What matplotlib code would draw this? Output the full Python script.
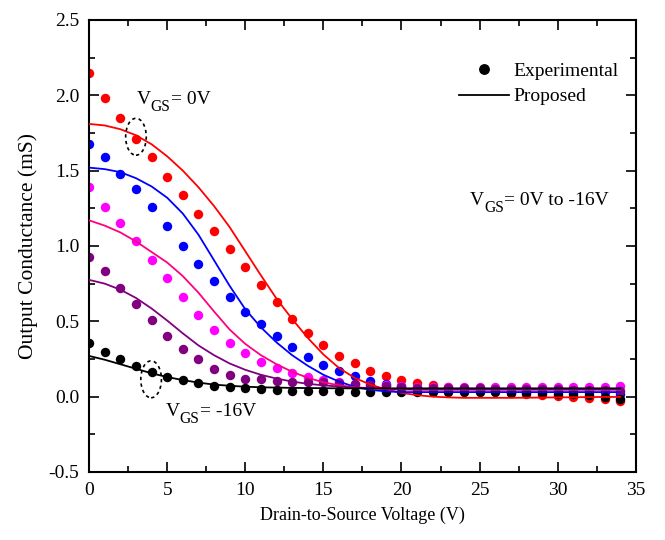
import matplotlib
matplotlib.use('Agg')
import matplotlib.pyplot as plt
from matplotlib.patches import Ellipse
from matplotlib.lines import Line2D
from matplotlib.ticker import MultipleLocator

plt.rcParams['font.family'] = ['Liberation Serif', 'DejaVu Serif']

# drain-source voltage (V)
vds = list(range(35))

# experimental output conductance (mS), VGS = 0 .. -16 V
exp_0 = [2.15, 1.98, 1.85, 1.71, 1.59, 1.46, 1.335, 1.215, 1.10, 0.98, 0.86, 0.74,
         0.63, 0.515, 0.42, 0.34, 0.27, 0.22, 0.17, 0.14, 0.11, 0.09, 0.077, 0.065,
         0.055, 0.045, 0.035, 0.025, 0.02, 0.01, 0.005, 0.0, -0.01, -0.015, -0.03]
exp_1 = [1.68, 1.59, 1.48, 1.38, 1.26, 1.135, 1.00, 0.88, 0.77, 0.66, 0.56, 0.48,
         0.40, 0.33, 0.265, 0.21, 0.17, 0.135, 0.107, 0.085, 0.07, 0.06, 0.055, 0.05,
         0.05, 0.045, 0.045, 0.04, 0.04, 0.04, 0.035, 0.035, 0.03, 0.03, 0.02]
exp_2 = [1.39, 1.26, 1.155, 1.03, 0.91, 0.79, 0.66, 0.54, 0.44, 0.355, 0.29, 0.23,
         0.19, 0.16, 0.13, 0.11, 0.095, 0.085, 0.08, 0.075, 0.07, 0.067, 0.065, 0.065,
         0.065, 0.065, 0.065, 0.065, 0.065, 0.065, 0.065, 0.065, 0.065, 0.065, 0.07]
exp_3 = [0.93, 0.834, 0.72, 0.615, 0.51, 0.405, 0.315, 0.25, 0.185, 0.145, 0.12, 0.115,
         0.105, 0.10, 0.10, 0.095, 0.09, 0.085, 0.075, 0.07, 0.065, 0.06, 0.06, 0.055,
         0.055, 0.055, 0.05, 0.05, 0.05, 0.05, 0.05, 0.045, 0.045, 0.045, 0.04]
exp_4 = [0.354, 0.295, 0.248, 0.204, 0.166, 0.133, 0.111, 0.089, 0.073, 0.066, 0.055, 0.05,
         0.045, 0.04, 0.04, 0.037, 0.035, 0.034, 0.033, 0.032, 0.032, 0.031, 0.031, 0.03,
         0.03, 0.03, 0.03, 0.027, 0.025, 0.022, 0.02, 0.016, 0.01, 0.0, -0.018]

# proposed model, read at the same voltages
mod_0 = [1.81, 1.80, 1.775, 1.735, 1.675, 1.595, 1.50, 1.39, 1.265, 1.125, 0.965, 0.805,
         0.65, 0.515, 0.39, 0.28, 0.19, 0.125, 0.08, 0.048, 0.025, 0.01, 0.0, -0.005,
         -0.008, -0.008, -0.008, -0.008, -0.007, -0.006, -0.005, -0.004, -0.003, -0.002, -0.002]
mod_1 = [1.52, 1.51, 1.49, 1.45, 1.395, 1.32, 1.215, 1.075, 0.905, 0.735, 0.58, 0.46,
         0.36, 0.275, 0.205, 0.145, 0.10, 0.065, 0.045, 0.035, 0.03, 0.03, 0.03, 0.03,
         0.03, 0.03, 0.03, 0.03, 0.03, 0.03, 0.03, 0.03, 0.03, 0.03, 0.03]
mod_2 = [1.17, 1.135, 1.09, 1.03, 0.96, 0.89, 0.80, 0.69, 0.565, 0.445, 0.35, 0.275,
         0.215, 0.165, 0.125, 0.095, 0.075, 0.063, 0.055, 0.05, 0.047, 0.045, 0.045, 0.045,
         0.045, 0.045, 0.045, 0.045, 0.045, 0.045, 0.045, 0.045, 0.045, 0.045, 0.045]
mod_3 = [0.775, 0.75, 0.71, 0.655, 0.585, 0.505, 0.42, 0.34, 0.275, 0.22, 0.178, 0.145,
         0.12, 0.10, 0.085, 0.075, 0.067, 0.06, 0.055, 0.052, 0.05, 0.05, 0.05, 0.05,
         0.05, 0.05, 0.05, 0.05, 0.05, 0.05, 0.05, 0.05, 0.05, 0.05, 0.05]
mod_4 = [0.27, 0.245, 0.215, 0.185, 0.155, 0.13, 0.11, 0.093, 0.08, 0.072, 0.066, 0.062,
         0.06, 0.058, 0.057, 0.056, 0.055, 0.055, 0.055, 0.055, 0.055, 0.055, 0.055, 0.055,
         0.055, 0.055, 0.055, 0.055, 0.055, 0.055, 0.055, 0.055, 0.055, 0.055, 0.055]

exp_sets = [exp_0, exp_1, exp_2, exp_3, exp_4]
mod_sets = [mod_0, mod_1, mod_2, mod_3, mod_4]
dot_colors = ['#ff0000', '#0000ff', '#ff00ff', '#800080', '#000000']
line_colors = ['#ff0000', '#0000ff', '#ff0080', '#800080', '#000000']


def vgs_label(ax, x, y, rest, size=14):
    # V with a dropped "GS" subscript, then the rest of the label
    t1 = ax.text(x, y, 'V', fontsize=size, va='baseline')
    t2 = ax.annotate('GS', xy=(1, 0), xycoords=t1, xytext=(0, -5),
                     textcoords='offset points', fontsize=size * 0.8, va='bottom')
    ax.annotate(rest, xy=(1, 0), xycoords=(t2, t1), fontsize=size, va='bottom')


fig = plt.figure(figsize=(6.65, 5.4), dpi=100)
ax = fig.add_axes([0.134, 0.126, 0.822, 0.837])

for ys, c in zip(exp_sets, dot_colors):
    ax.plot(vds, ys, 'o', color=c, markersize=6.8, markeredgewidth=0, zorder=2)
for ys, c in zip(mod_sets, line_colors):
    ax.plot(vds, ys, '-', color=c, linewidth=1.3, zorder=3)

# dotted ellipses marking the two ends of the family
for cx, cy in [(3.0, 1.725), (3.97, 0.115)]:
    ax.add_patch(Ellipse((cx, cy), 1.32, 0.245, fill=False, edgecolor='black',
                         linestyle=(0, (2, 2)), linewidth=1.2, zorder=4))

vgs_label(ax, 3.05, 1.94, '= 0V')
vgs_label(ax, 4.9, -0.13, '= -16V')
vgs_label(ax, 24.4, 1.27, '= 0V to -16V')

handles = [Line2D([], [], marker='o', color='black', linestyle='none', markersize=6.8),
           Line2D([], [], color='black', linewidth=1.3)]
ax.legend(handles, ['Experimental', 'Proposed'], loc='upper right',
          bbox_to_anchor=(1.0, 0.945), frameon=False, fontsize=14,
          handlelength=2.6, handletextpad=0.2, labelspacing=0.4)

ax.set_xlim(0, 35)
ax.set_ylim(-0.5, 2.5)
ax.xaxis.set_major_locator(MultipleLocator(5))
ax.xaxis.set_minor_locator(MultipleLocator(2.5))
ax.yaxis.set_major_locator(MultipleLocator(0.5))
ax.yaxis.set_minor_locator(MultipleLocator(0.25))
ax.yaxis.set_major_formatter(plt.FuncFormatter(lambda v, p: '%.1f' % v))
ax.tick_params(which='both', direction='in', top=True, right=True, labelsize=14, width=1.2)
ax.tick_params(which='major', length=7, pad=7)
ax.tick_params(which='minor', length=4)
for s in ax.spines.values():
    s.set_linewidth(1.5)

ax.set_xlabel('Drain-to-Source Voltage (V)', fontsize=13, labelpad=6)
ax.set_ylabel('Output Conductance (mS)', fontsize=15.5, labelpad=8)

fig.savefig('out.png', dpi=100)
